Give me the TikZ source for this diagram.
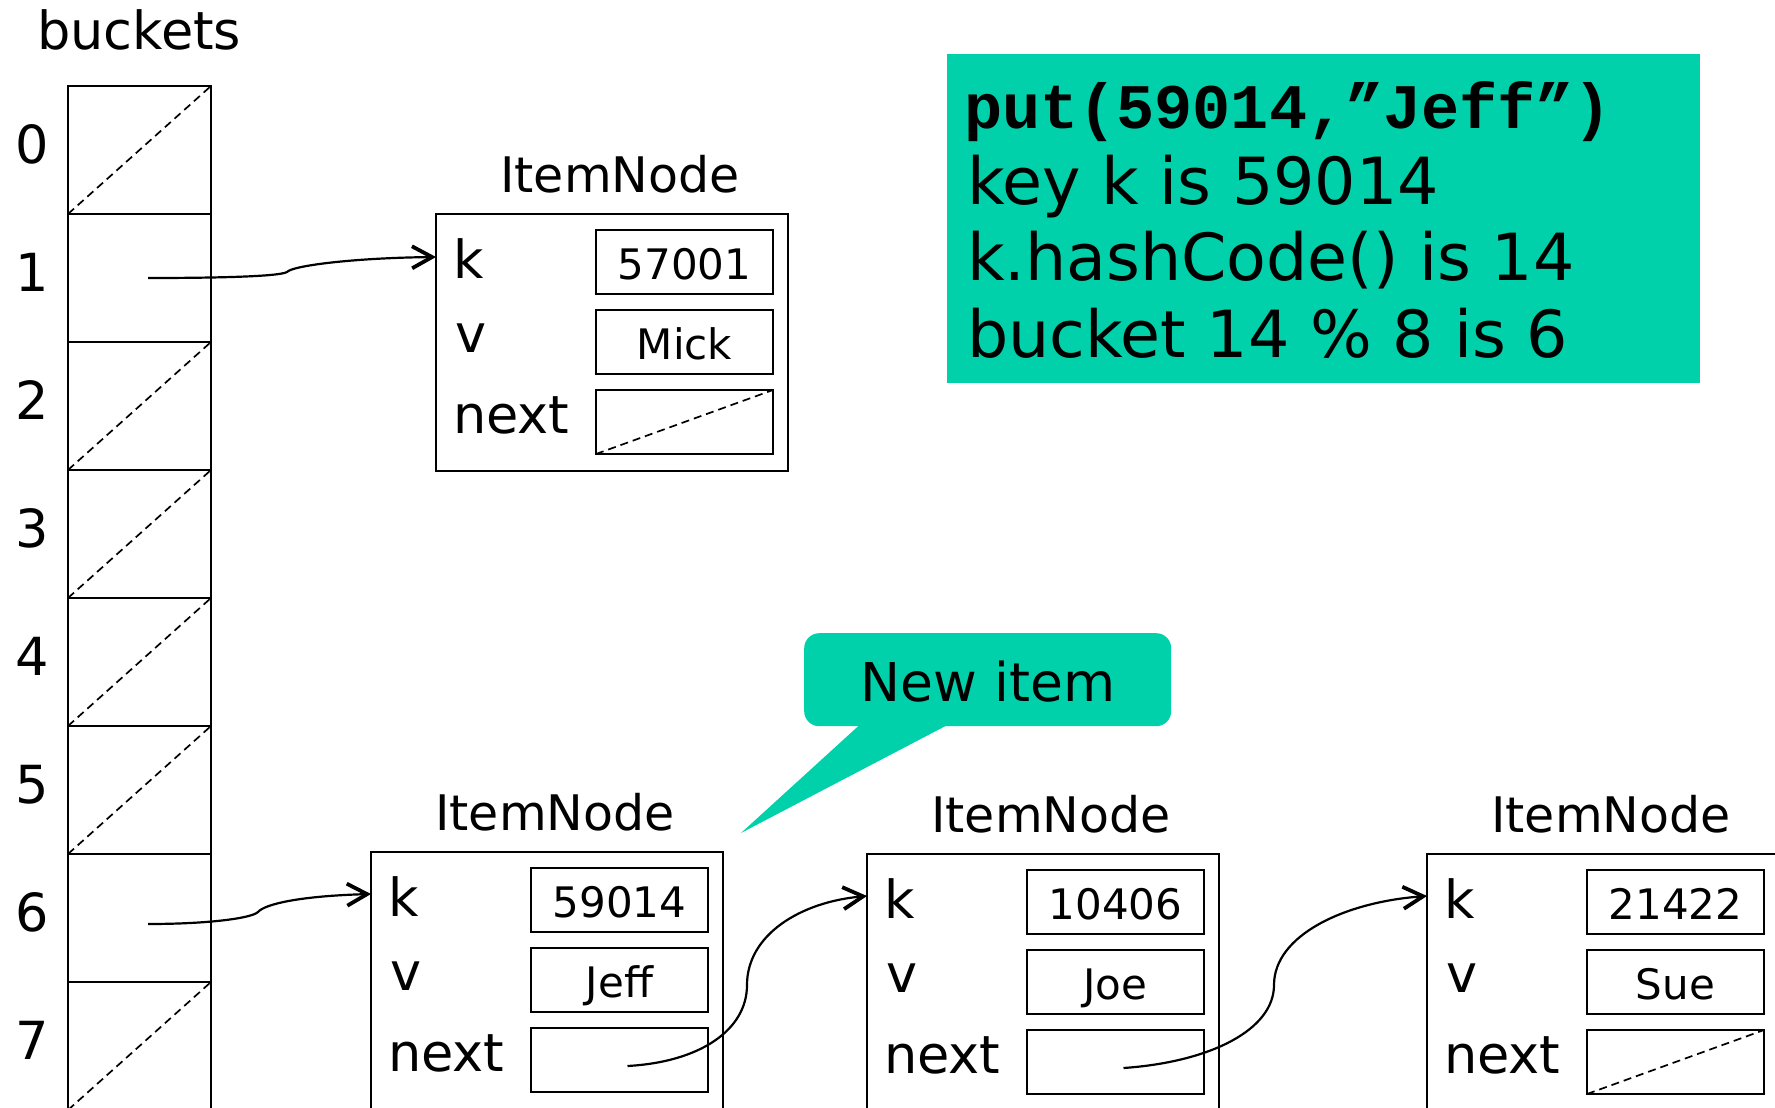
\documentclass[tikz,border=0pt]{standalone}
\usepackage{fontspec}
\setmainfont{DejaVu Sans}
\newfontfamily\codefont{Liberation Mono}
\usetikzlibrary{arrows.meta,calc}
\definecolor{hl}{RGB}{0,209,171}
\newcommand\fLbl{\fontsize{52.5}{62}\selectfont}
\newcommand\fTitle{\fontsize{49}{58}\selectfont}
\newcommand\fVal{\fontsize{42}{49}\selectfont}
\newcommand\fInfo{\fontsize{65}{77}\selectfont}
\newcommand\fCode{\codefont\bfseries\fontsize{63.5}{77}\selectfont}
\newcommand\fNew{\fontsize{53.5}{62}\selectfont}
\tikzset{
  cell/.style={draw, line width=2.2pt, minimum width=143pt, minimum height=128pt, inner sep=0pt, outer sep=0pt, anchor=north west},
  outerbox/.style={draw, line width=2.2pt, minimum width=352pt, minimum height=257pt, inner sep=0pt, outer sep=0pt, anchor=north west},
  fieldbox/.style={draw, line width=2.2pt, minimum width=177pt, minimum height=64pt, inner sep=0pt, outer sep=0pt, anchor=north west},
  nullline/.style={dash pattern=on 8pt off 5pt, line width=1.7pt},
  ptr/.style={line width=2.2pt, -{Straight Barb[length=20pt,width=22pt,line width=3.8pt]}},
  txt/.style={inner sep=0pt, outer sep=0pt, font=\fLbl},
  titletxt/.style={inner sep=0pt, outer sep=0pt, font=\fTitle},
  valtxt/.style={inner sep=0pt, outer sep=0pt, font=\fVal},
  infotxt/.style={inner sep=0pt, outer sep=0pt, font=\fInfo, anchor=base west},
}
\newcommand\ItemNodeBox[6]{%
  \node[outerbox] (#1) at (#2,#3) {};
  \node[titletxt, anchor=base] (#1-title) at ([xshift=184pt,yshift=22pt]#1.north west) {ItemNode};
  \node[fieldbox] (#1-k) at ([xshift=160pt,yshift=-16pt]#1.north west) {};
  \node[fieldbox] (#1-v) at ([xshift=160pt,yshift=-96pt]#1.north west) {};
  \node[fieldbox] (#1-n) at ([xshift=160pt,yshift=-176pt]#1.north west) {};
  \node[txt, anchor=base west] (#1-kl) at ([xshift=17pt,yshift=-64pt]#1.north west) {k};
  \node[txt, anchor=base west] (#1-vl) at ([xshift=19pt,yshift=-138pt]#1.north west) {v};
  \node[txt, anchor=base west] (#1-nl) at ([xshift=17pt,yshift=-219pt]#1.north west) {next};
  \node[valtxt, anchor=base] (#1-kv) at ([yshift=-17pt]#1-k.center) {#4};
  \node[valtxt, anchor=base] (#1-vv) at ([yshift=-17pt]#1-v.center) {#5};
  \ifnum#6=1 \draw[nullline] (#1-n.south west) -- (#1-n.north east);\fi
}
\begin{document}
\begin{tikzpicture}[x=1pt, y=-1pt]
\useasboundingbox (0,0) rectangle (1775,1108);
\clip (0,0) rectangle (1775,1108);

% buckets
\node[txt, anchor=base west] (bucketsTitle) at (37,49) {buckets};
\foreach \i in {0,...,7} {
  \node[cell] (b\i) at (68,{86+128*\i}) {};
  \node[txt, anchor=base] (lab\i) at (32,{86+128*\i+77}) {\i};
}
\foreach \i in {0,2,3,4,5,7} {
  \draw[nullline] (b\i.south west) -- (b\i.north east);
}

% item nodes
\ItemNodeBox{top}{436}{214}{57001}{Mick}{1}
\ItemNodeBox{jeff}{371}{852}{59014}{Jeff}{0}
\ItemNodeBox{joe}{867}{854}{10406}{Joe}{0}
\ItemNodeBox{sue}{1427}{854}{21422}{Sue}{1}

% info box
\node[fill=hl, minimum width=753pt, minimum height=329pt, inner sep=0pt, outer sep=0pt, anchor=north west] (info) at (947,54) {};
\node[inner sep=0pt, font=\fCode, anchor=base west] (info1) at (964,128) {put(59014,”Jeff”)};
\node[infotxt] (info2) at (967,204) {key k is 59014};
\node[infotxt] (info3) at (967,280) {k.hashCode() is 14};
\node[infotxt] (info4) at (967,357) {bucket 14 \% 8 is 6};

% callout
\node[fill=hl, rounded corners=15pt, minimum width=367pt, minimum height=93pt, inner sep=0pt, anchor=north west] (newitem) at (804,633) {};
\coordinate (tip) at (741,833);
\fill[hl] (865,720) -- (tip) -- (957,720) -- cycle;
\node[inner sep=0pt, font=\fNew, anchor=base] (newitemText) at (988,701) {New item};

% pointers
\path ([xshift=8.5pt]b1.center) coordinate (s1);
\path (top.west |- top-k.west) ++(0,-5) coordinate (e1);
\draw[ptr] (s1) .. controls (230,278) and (280,276) .. (287,272) .. controls (292,266) and (350,258) .. (e1);

\path ([xshift=8.5pt]b6.center) ++(0,6) coordinate (s6);
\path (jeff.west |- jeff-k.west) ++(0,-6) coordinate (e6);
\draw[ptr] (s6) .. controls (210,924) and (252,918) .. (258,912) .. controls (265,904) and (300,896) .. (e6);

\path (jeff-n.center) ++(8,6) coordinate (s2);
\path (joe.west |- joe-k.west) ++(0,-6) coordinate (e2);
\draw[ptr] (s2) .. controls (700,1062) and (747,1030) .. (747,985) .. controls (747,935) and (800,902) .. (e2);

\path (joe-n.center) ++(8,6) coordinate (s3);
\path (sue.west |- sue-k.west) ++(0,-6) coordinate (e3);
\draw[ptr] (s3) .. controls (1210,1062) and (1274,1030) .. (1274,985) .. controls (1274,935) and (1345,902) .. (e3);
\end{tikzpicture}
\end{document}
